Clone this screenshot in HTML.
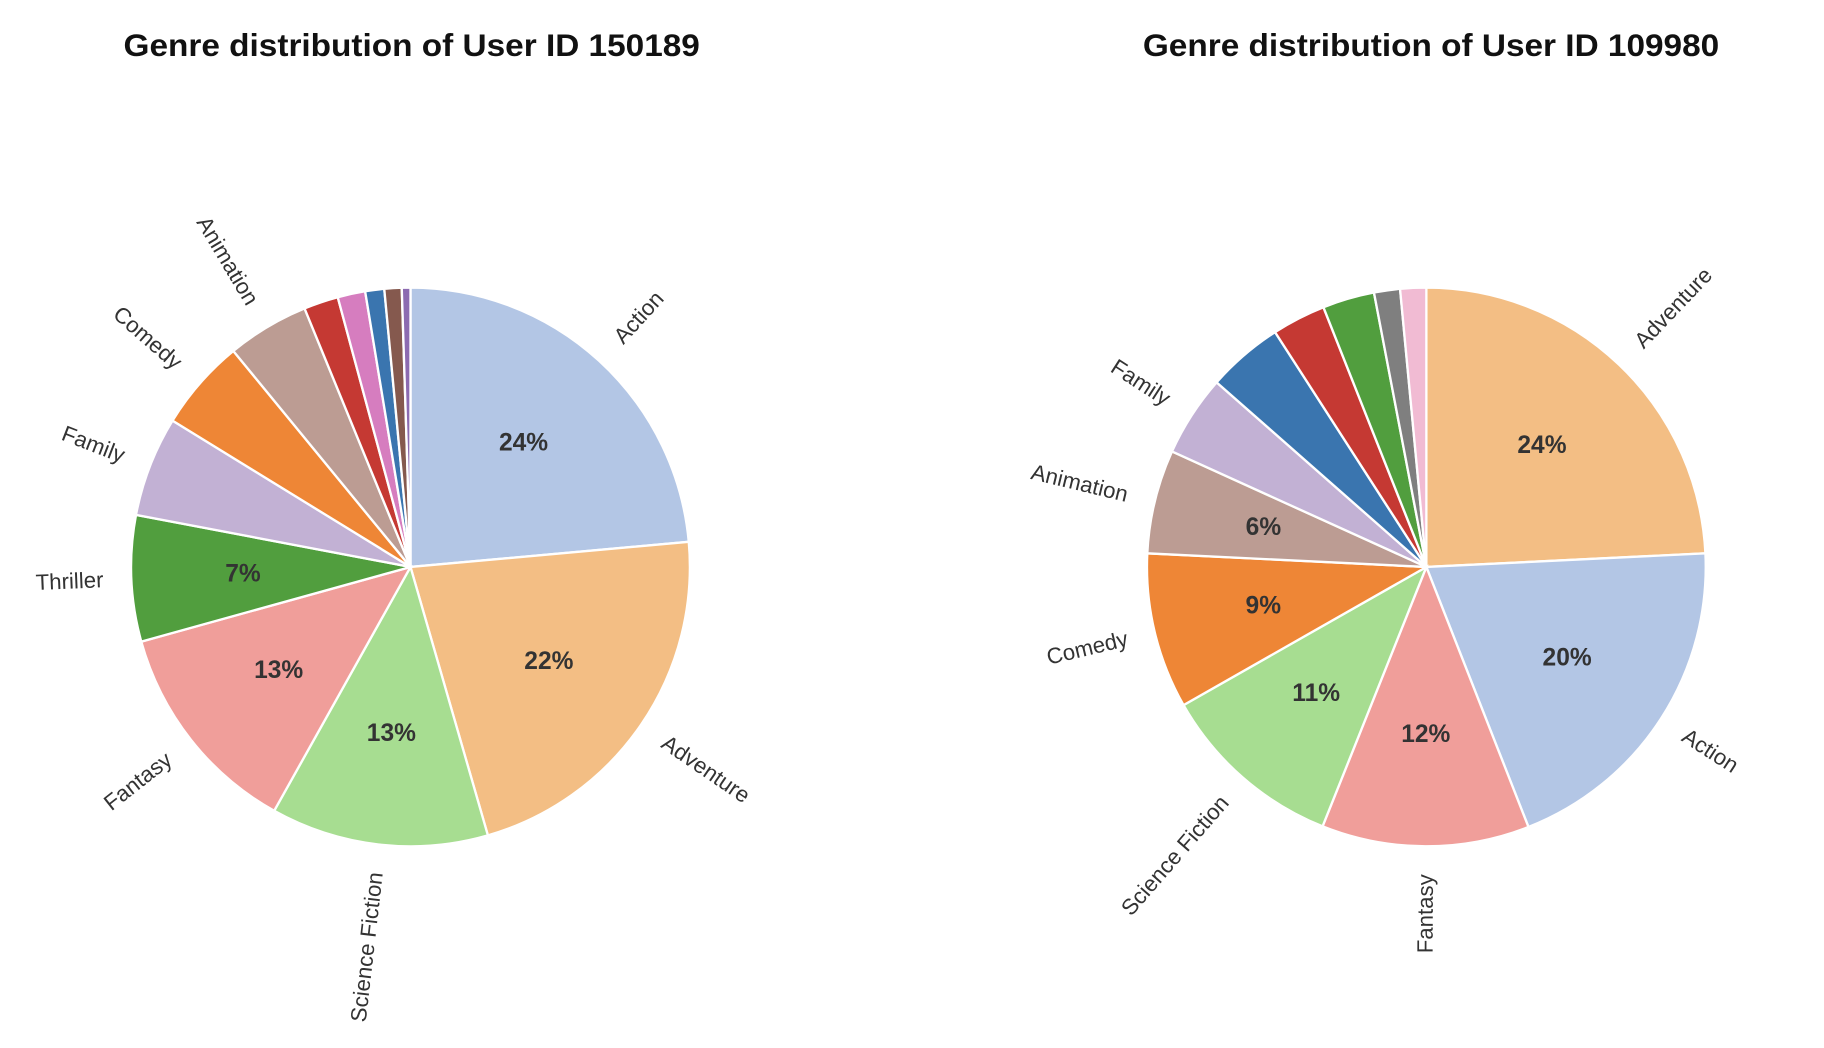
<!DOCTYPE html>
<html><head><meta charset="utf-8">
<style>
html,body{margin:0;padding:0;background:#fff;}
svg{display:block;font-family:"Liberation Sans",Arial,sans-serif;}
</style></head>
<body>
<svg id="chart" width="1824" height="1048" viewBox="0 0 1560 896.5" xmlns="http://www.w3.org/2000/svg">
<rect width="1560" height="897" fill="#fff"/>
<text x="352" y="48" text-anchor="middle" font-size="27" font-weight="bold" fill="#111" textLength="493" lengthAdjust="spacingAndGlyphs">Genre distribution of User ID 150189</text>
<text x="1224" y="48" text-anchor="middle" font-size="27" font-weight="bold" fill="#111" textLength="493" lengthAdjust="spacingAndGlyphs">Genre distribution of User ID 109980</text>
<g id="left"></g>
<g id="right"></g>
</svg>
<script>
const leftLabels = ["Action","Adventure","Science Fiction","Fantasy","Thriller","Family","Comedy","Animation","","","","",""];
const leftValues = [23.6,22,12.6,12.6,7.3,5.8,5.3,4.75,2,1.6,1.1,1,0.5];
const leftColors = ["#b3c6e5","#f3be84","#a7dd91","#f09e9a","#519e3e","#c2b1d4","#ee8636","#bc9c93","#c53933","#d67dbf","#3a75af","#85594e","#8c6bb1"];
const rightLabels = ["Adventure","Action","Fantasy","Science Fiction","Comedy","Animation","Family","","","","",""];
const rightValues = [24.2,19.8,12,10.7,9,6,4.7,4.4,3.1,3,1.5,1.5];
const rightColors = ["#f3be84","#b3c6e5","#f09e9a","#a7dd91","#ee8636","#bc9c93","#c2b1d4","#3a75af","#c53933","#519e3e","#7f7f7f","#f1bbd3"];

const NS = "http://www.w3.org/2000/svg";
function drawPie(gid, cx, cy, R, labels, values, colors) {
  const g = document.getElementById(gid);
  const total = values.reduce((a,b)=>a+b,0);
  let start = 90;
  values.forEach((v,i)=>{
    const sweep = v/total*360;
    const end = start - sweep;
    const a1 = start*Math.PI/180, a2 = end*Math.PI/180;
    const x1 = cx+R*Math.cos(a1), y1 = cy-R*Math.sin(a1);
    const x2 = cx+R*Math.cos(a2), y2 = cy-R*Math.sin(a2);
    const p = document.createElementNS(NS,"path");
    p.setAttribute("d",`M${cx},${cy} L${x1},${y1} A${R},${R} 0 ${sweep>180?1:0} 1 ${x2},${y2} Z`);
    p.setAttribute("fill",colors[i]);
    p.setAttribute("stroke","#fff");
    p.setAttribute("stroke-width","2");
    
    
    g.appendChild(p);
    const mid = (start+end)/2, am = mid*Math.PI/180;
    const pct = v/total*100;
    if (pct >= 5.95) {
      const t = document.createElementNS(NS,"text");
      t.setAttribute("x", cx+0.6*R*Math.cos(am));
      t.setAttribute("y", cy-0.6*R*Math.sin(am));
      t.setAttribute("text-anchor","middle");
      t.setAttribute("dominant-baseline","central");
      t.setAttribute("font-size","21");
      t.setAttribute("font-weight","bold");
      t.setAttribute("fill","#333");
      t.textContent = Math.round(pct) + "%";
      
      
      g.appendChild(t);
    }
    if (labels[i]) {
      const lx = cx+1.1*R*Math.cos(am), ly = cy-1.1*R*Math.sin(am);
      const right = Math.cos(am) >= 0;
      let rot = ((mid%360)+360)%360;
      if (!right) rot += 180;
      const t = document.createElementNS(NS,"text");
      t.setAttribute("x", lx);
      t.setAttribute("y", ly);
      t.setAttribute("text-anchor", right ? "start" : "end");
      t.setAttribute("dominant-baseline","central");
      t.setAttribute("font-size","19");
      t.setAttribute("fill","#333");
      t.setAttribute("transform", `rotate(${-rot} ${lx} ${ly})`);
      t.textContent = labels[i];
      
      
      g.appendChild(t);
    }
    start = end;
  });
}
drawPie("left", 351, 485, 239, leftLabels, leftValues, leftColors);
drawPie("right", 1220, 485, 239, rightLabels, rightValues, rightColors);
</script>
</body></html>
